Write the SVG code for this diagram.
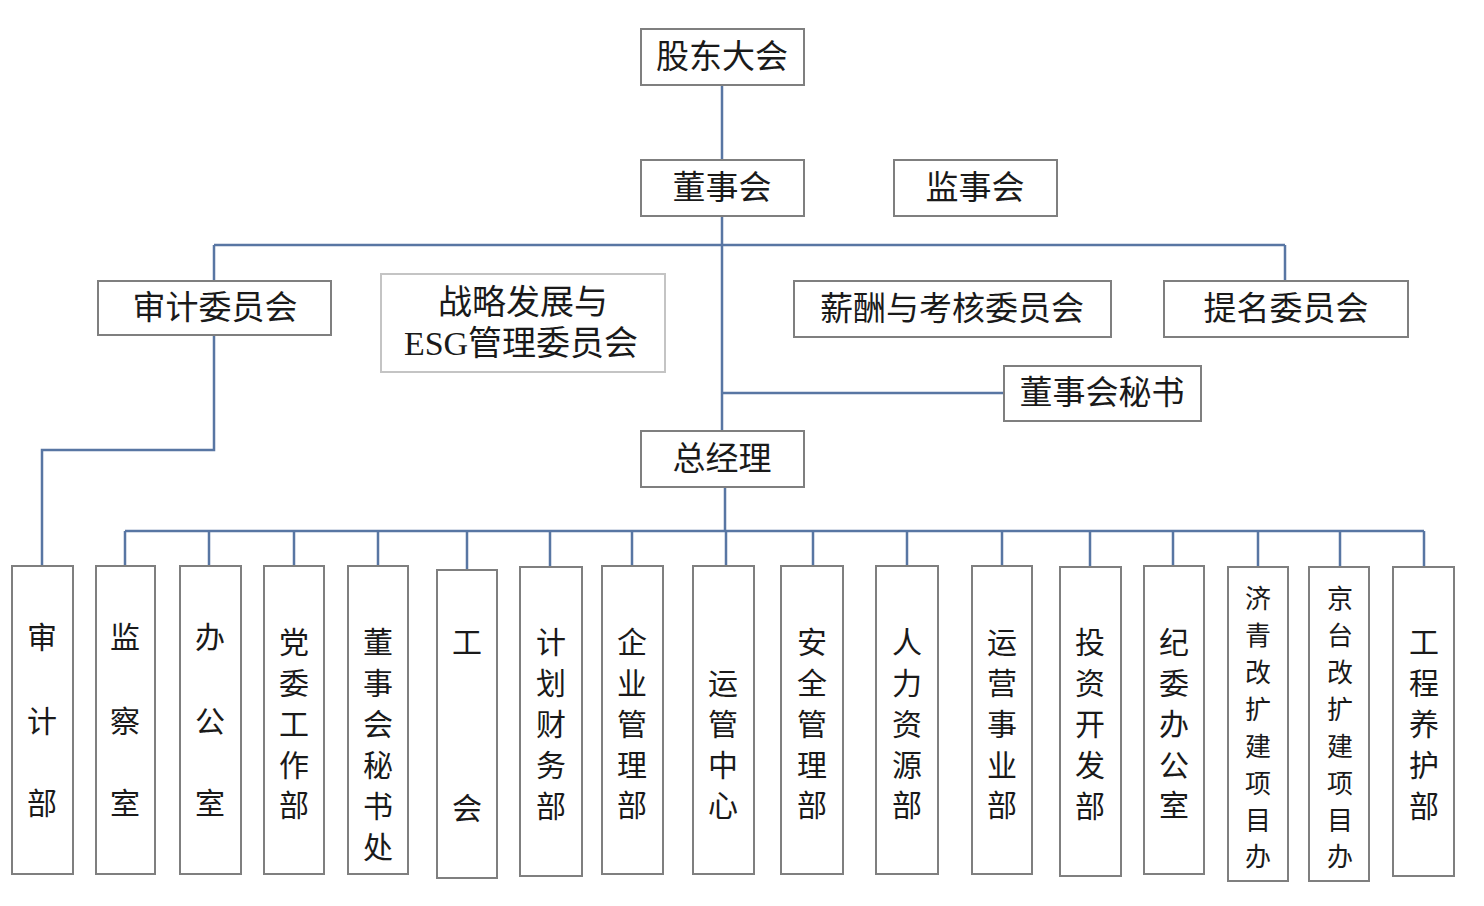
<svg xmlns="http://www.w3.org/2000/svg" width="1484" height="906" viewBox="0 0 1484 906">
<style>
.b{fill:#fff;stroke:#7f7f7f;stroke-width:2}
.bl{fill:#fff;stroke:#c4c4c4;stroke-width:2}
.t{font-family:"Liberation Serif","Noto Sans CJK SC",serif;font-size:33px;fill:#1a1a1a;text-anchor:middle;dominant-baseline:central}
.e{font-size:34px}
.v{font-family:"Noto Sans CJK SC",sans-serif;font-size:30px;fill:#1a1a1a;text-anchor:middle;dominant-baseline:central}
.vs{font-size:26px}
.c{fill:none;stroke:#5876a3;stroke-width:2.5}
</style>
<rect width="1484" height="906" fill="#fff"/>
<g id="connectors">
<path class="c" d="M722 85V431"/>
<path class="c" d="M214 245H1285M1285 245V281M214 245V281"/>
<path class="c" d="M214 335V450H42V566"/>
<path class="c" d="M722 393H1004"/>
<path class="c" d="M725 487V531M125 531H1424"/>
<path class="c" d="M125 531V566M209 531V566M294 531V566M378 531V566M467 531V570M550 531V567M632 531V566M726 531V566M813 531V566M907 531V566M1002 531V566M1090 531V567M1173 531V566M1258 531V567M1340 531V567M1424 531V567"/>
</g>
<g id="gudongdahui"><rect class="b" x="641" y="29" width="163" height="56"/><text class="t" x="722" y="57">股东大会</text></g>
<g id="dongshihui"><rect class="b" x="641" y="160" width="163" height="56"/><text class="t" x="722" y="188">董事会</text></g>
<g id="jianshihui"><rect class="b" x="894" y="160" width="163" height="56"/><text class="t" x="975" y="188">监事会</text></g>
<g id="shenjiweiyuanhui"><rect class="b" x="98" y="281" width="233" height="54"/><text class="t" x="215" y="308">审计委员会</text></g>
<g id="esg"><rect class="bl" x="381" y="274" width="284" height="98"/><text class="t e" x="523" y="302">战略发展与</text><text class="t e" x="521" y="343">ESG管理委员会</text></g>
<g id="xinchou"><rect class="b" x="794" y="281" width="317" height="56"/><text class="t" x="952" y="309">薪酬与考核委员会</text></g>
<g id="timing"><rect class="b" x="1164" y="281" width="244" height="56"/><text class="t" x="1286" y="309">提名委员会</text></g>
<g id="dongmi"><rect class="b" x="1004" y="366" width="197" height="55"/><text class="t" x="1102" y="393">董事会秘书</text></g>
<g id="zongjingli"><rect class="b" x="641" y="431" width="163" height="56"/><text class="t" x="722" y="459">总经理</text></g>

<g id="shenjibu"><rect class="b" x="12" y="566" width="61" height="308"/><text class="v"><tspan x="42" y="635">审</tspan><tspan x="42" y="719">计</tspan><tspan x="42" y="801">部</tspan></text></g>
<g id="jianchashi"><rect class="b" x="96" y="566" width="59" height="308"/><text class="v"><tspan x="125" y="635">监</tspan><tspan x="125" y="719">察</tspan><tspan x="125" y="801">室</tspan></text></g>
<g id="bangongshi"><rect class="b" x="180" y="566" width="61" height="308"/><text class="v"><tspan x="210" y="635">办</tspan><tspan x="210" y="719">公</tspan><tspan x="210" y="801">室</tspan></text></g>
<g id="dangwei"><rect class="b" x="264" y="566" width="60" height="308"/><text class="v"><tspan x="294" y="640">党</tspan><tspan x="294" y="681">委</tspan><tspan x="294" y="722">工</tspan><tspan x="294" y="763">作</tspan><tspan x="294" y="803">部</tspan></text></g>
<g id="dongmichu"><rect class="b" x="348" y="566" width="60" height="308"/><text class="v"><tspan x="378" y="640">董</tspan><tspan x="378" y="681">事</tspan><tspan x="378" y="722">会</tspan><tspan x="378" y="763">秘</tspan><tspan x="378" y="804">书</tspan><tspan x="378" y="845">处</tspan></text></g>
<g id="gonghui"><rect class="b" x="437" y="570" width="60" height="308"/><text class="v"><tspan x="467" y="640">工</tspan><tspan x="467" y="806">会</tspan></text></g>
<g id="jihuacaiwu"><rect class="b" x="520" y="567" width="62" height="309"/><text class="v"><tspan x="551" y="640">计</tspan><tspan x="551" y="681">划</tspan><tspan x="551" y="722">财</tspan><tspan x="551" y="763">务</tspan><tspan x="551" y="804">部</tspan></text></g>
<g id="qiyeguanli"><rect class="b" x="602" y="566" width="61" height="308"/><text class="v"><tspan x="632" y="640">企</tspan><tspan x="632" y="681">业</tspan><tspan x="632" y="722">管</tspan><tspan x="632" y="763">理</tspan><tspan x="632" y="803">部</tspan></text></g>
<g id="yunguanzhongxin"><rect class="b" x="693" y="566" width="61" height="308"/><text class="v"><tspan x="723" y="681">运</tspan><tspan x="723" y="722">管</tspan><tspan x="723" y="763">中</tspan><tspan x="723" y="803">心</tspan></text></g>
<g id="anquanguanli"><rect class="b" x="781" y="566" width="62" height="308"/><text class="v"><tspan x="812" y="640">安</tspan><tspan x="812" y="681">全</tspan><tspan x="812" y="722">管</tspan><tspan x="812" y="763">理</tspan><tspan x="812" y="803">部</tspan></text></g>
<g id="renliziyuan"><rect class="b" x="876" y="566" width="62" height="308"/><text class="v"><tspan x="907" y="640">人</tspan><tspan x="907" y="681">力</tspan><tspan x="907" y="722">资</tspan><tspan x="907" y="763">源</tspan><tspan x="907" y="803">部</tspan></text></g>
<g id="yunyingshiye"><rect class="b" x="972" y="566" width="60" height="308"/><text class="v"><tspan x="1002" y="640">运</tspan><tspan x="1002" y="681">营</tspan><tspan x="1002" y="722">事</tspan><tspan x="1002" y="763">业</tspan><tspan x="1002" y="803">部</tspan></text></g>
<g id="touzikaifa"><rect class="b" x="1060" y="567" width="61" height="309"/><text class="v"><tspan x="1090" y="640">投</tspan><tspan x="1090" y="681">资</tspan><tspan x="1090" y="722">开</tspan><tspan x="1090" y="763">发</tspan><tspan x="1090" y="804">部</tspan></text></g>
<g id="jiwei"><rect class="b" x="1144" y="566" width="60" height="308"/><text class="v"><tspan x="1174" y="640">纪</tspan><tspan x="1174" y="681">委</tspan><tspan x="1174" y="722">办</tspan><tspan x="1174" y="763">公</tspan><tspan x="1174" y="803">室</tspan></text></g>
<g id="jiqing"><rect class="b" x="1228" y="567" width="60" height="314"/><text class="v vs"><tspan x="1258" y="596">济</tspan><tspan x="1258" y="633">青</tspan><tspan x="1258" y="670">改</tspan><tspan x="1258" y="707">扩</tspan><tspan x="1258" y="744">建</tspan><tspan x="1258" y="781">项</tspan><tspan x="1258" y="818">目</tspan><tspan x="1258" y="854">办</tspan></text></g>
<g id="jingtai"><rect class="b" x="1309" y="567" width="60" height="314"/><text class="v vs"><tspan x="1340" y="596">京</tspan><tspan x="1340" y="633">台</tspan><tspan x="1340" y="670">改</tspan><tspan x="1340" y="707">扩</tspan><tspan x="1340" y="744">建</tspan><tspan x="1340" y="781">项</tspan><tspan x="1340" y="818">目</tspan><tspan x="1340" y="854">办</tspan></text></g>
<g id="gongchengyanghu"><rect class="b" x="1393" y="567" width="61" height="309"/><text class="v"><tspan x="1424" y="640">工</tspan><tspan x="1424" y="681">程</tspan><tspan x="1424" y="722">养</tspan><tspan x="1424" y="763">护</tspan><tspan x="1424" y="804">部</tspan></text></g>
</svg>
